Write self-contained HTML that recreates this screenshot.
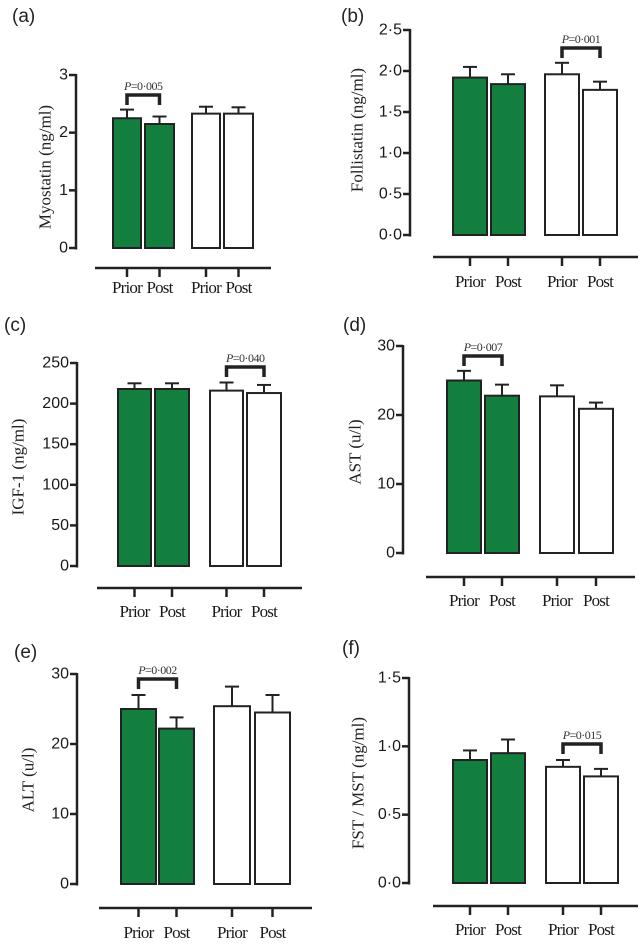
<!DOCTYPE html>
<html><head><meta charset="utf-8"><style>
html,body{margin:0;padding:0;background:#fff;}
svg{display:block;}
.tk{font-family:"Liberation Sans",sans-serif;font-size:16px;fill:#1a1a1a;}
.ttl{font-family:"Liberation Serif",serif;font-size:17px;fill:#222;}
.cat{font-family:"Liberation Serif",serif;font-size:17px;fill:#1a1a1a;letter-spacing:-0.8px;}
.pl{font-family:"Liberation Serif",serif;font-size:12px;fill:#333;letter-spacing:-0.5px;}
.lab{font-family:"Liberation Sans",sans-serif;font-size:19px;fill:#222;}
</style></head><body>
<svg id="fig" width="641" height="944" viewBox="0 0 641 944" xmlns="http://www.w3.org/2000/svg"></svg>
<script>
const categories = ["Prior","Post","Prior","Post"];
const aMeans = [2.25, 2.15, 2.33, 2.33];
const aErrs = [0.15, 0.13, 0.12, 0.11];
const aTicks = ["0","1","2","3"];
const bMeans = [1.92, 1.84, 1.96, 1.77];
const bErrs = [0.13, 0.12, 0.14, 0.1];
const bTicks = ["0·0","0·5","1·0","1·5","2·0","2·5"];
const cMeans = [218, 218, 216, 213];
const cErrs = [7, 7, 10, 10];
const cTicks = ["0","50","100","150","200","250"];
const dMeans = [25.0, 22.8, 22.7, 20.9];
const dErrs = [1.4, 1.6, 1.6, 0.9];
const dTicks = ["0","10","20","30"];
const eMeans = [25.0, 22.2, 25.4, 24.5];
const eErrs = [2.0, 1.6, 2.8, 2.5];
const eTicks = ["0","10","20","30"];
const fMeans = [0.90, 0.95, 0.85, 0.78];
const fErrs = [0.07, 0.10, 0.05, 0.055];
const fTicks = ["0·0","0·5","1·0","1·5"];
const tickValuesA=[0,1,2,3], tickValuesB=[0,0.5,1,1.5,2,2.5], tickValuesC=[0,50,100,150,200,250], tickValuesD=[0,10,20,30], tickValuesF=[0,0.5,1,1.5];

const NS="http://www.w3.org/2000/svg";
const svg=document.getElementById('fig');
function mk(tag,attrs,parent,text){const e=document.createElementNS(NS,tag);for(const k in attrs)e.setAttribute(k,attrs[k]);if(text!==undefined)e.textContent=text;(parent||svg).appendChild(e);return e;}

const panels=[
 {id:'a',label:'(a)',lx:12,ly:22,title:'Myostatin (ng/ml)',tx:45,ty:167,ax:76,y0:248,y1:75,max:3,ticks:aTicks,tv:tickValuesA,means:aMeans,errs:aErrs,
  bars:[[112,142],[144,175],[191,221],[223,254]],xl:[95,271],xy:268,cy:293,p:'0·005',pair:[0,1],py:95},
 {id:'b',label:'(b)',lx:341,ly:22,title:'Follistatin (ng/ml)',tx:357,ty:130,ax:410,y0:235,y1:30,max:2.5,ticks:bTicks,tv:tickValuesB,means:bMeans,errs:bErrs,
  bars:[[452,488],[490,526],[544,580],[582,618]],xl:[433,638],xy:257,cy:287,p:'0·001',pair:[2,3],py:48},
 {id:'c',label:'(c)',lx:4,ly:331,title:'IGF-1 (ng/ml)',tx:18,ty:467,ax:77,y0:566,y1:363,max:250,ticks:cTicks,tv:tickValuesC,means:cMeans,errs:cErrs,
  bars:[[117,152],[154,190],[209,244],[246,282]],xl:[97,302],xy:588,cy:617,p:'0·040',pair:[2,3],py:367},
 {id:'d',label:'(d)',lx:343,ly:331,title:'AST (u/l)',tx:355,ty:452,ax:403,y0:553,y1:346,max:30,ticks:dTicks,tv:tickValuesD,means:dMeans,errs:dErrs,
  bars:[[446,482],[484,520],[539,575],[578,614]],xl:[426,635],xy:577,cy:606,p:'0·007',pair:[0,1],py:356},
 {id:'e',label:'(e)',lx:14,ly:658,title:'ALT (u/l)',tx:28,ty:780,ax:77,y0:884,y1:674,max:30,ticks:eTicks,tv:tickValuesD,means:eMeans,errs:eErrs,
  bars:[[120,157],[158,195],[213,251],[254,291]],xl:[99,312],xy:908,cy:938,p:'0·002',pair:[0,1],py:679},
 {id:'f',label:'(f)',lx:342,ly:654,title:'FST / MST (ng/ml)',tx:358,ty:783,ax:409,y0:883,y1:678,max:1.5,ticks:fTicks,tv:tickValuesF,means:fMeans,errs:fErrs,
  bars:[[452,488],[490,526],[545,581],[583,619]],xl:[433,638],xy:906,cy:935,p:'0·015',pair:[2,3],py:744}
];

panels.forEach(P=>{
  const g=mk('g',{});
  
  
  const yS=v=>P.y0-(v/P.max)*(P.y0-P.y1);
  const lab=mk('text',{x:P.lx,y:P.ly,class:'lab'},g,P.label);
  
  
  const t=mk('text',{x:P.tx,y:P.ty,class:'ttl','text-anchor':'middle','dominant-baseline':'central',transform:`rotate(-90 ${P.tx} ${P.ty})`},g,P.title);
  
  
  const ya=mk('line',{x1:P.ax,y1:P.y1-1,x2:P.ax,y2:P.y0+1.5,stroke:'#222','stroke-width':2.5},g);
  
  
  P.tv.forEach((v,i)=>{
    const y=yS(v);
    mk('line',{x1:P.ax-7,y1:y,x2:P.ax,y2:y,stroke:'#222','stroke-width':2.5},g);
    const tl=mk('text',{x:P.ax-8,y:y,class:'tk','text-anchor':'end','dominant-baseline':'central'},g,P.ticks[i]);
    
    
  });
  P.means.forEach((m,i)=>{
    const [x0,x1]=P.bars[i];
    const cx=(x0+x1)/2;
    const top=yS(m);
    const et=yS(m+P.errs[i]);
    const el=mk('line',{x1:cx,y1:et,x2:cx,y2:top,stroke:'#222','stroke-width':2},g);
    
    
    mk('line',{x1:cx-7,y1:et,x2:cx+7,y2:et,stroke:'#222','stroke-width':2},g);
    const r=mk('rect',{x:x0+1,y:top,width:x1-x0-2,height:P.y0-top,fill:i<2?'#137f3f':'#fff',stroke:'#222','stroke-width':2},g);
    
    
    mk('line',{x1:cx,y1:P.xy,x2:cx,y2:P.xy+9,stroke:'#222','stroke-width':2.5},g);
    const c=mk('text',{x:cx,y:P.cy,class:'cat','text-anchor':'middle'},g,categories[i]);
    
    
  });
  const xa=mk('line',{x1:P.xl[0],y1:P.xy,x2:P.xl[1],y2:P.xy,stroke:'#222','stroke-width':2.5},g);
  
  
  const a=P.bars[P.pair[0]], b=P.bars[P.pair[1]];
  const bx0=(a[0]+a[1])/2, bx1=(b[0]+b[1])/2;
  const br=mk('path',{d:`M${bx0} ${P.py+10} L${bx0} ${P.py} L${bx1} ${P.py} L${bx1} ${P.py+10}`,fill:'none',stroke:'#222','stroke-width':3.5},g);
  
  
  const pt=mk('text',{x:(bx0+bx1)/2,y:P.py-5,class:'pl','text-anchor':'middle'},g);
  
  
  mk('tspan',{'font-style':'italic'},pt,'P');
  mk('tspan',{},pt,'='+P.p);
});
</script>
</body></html>
